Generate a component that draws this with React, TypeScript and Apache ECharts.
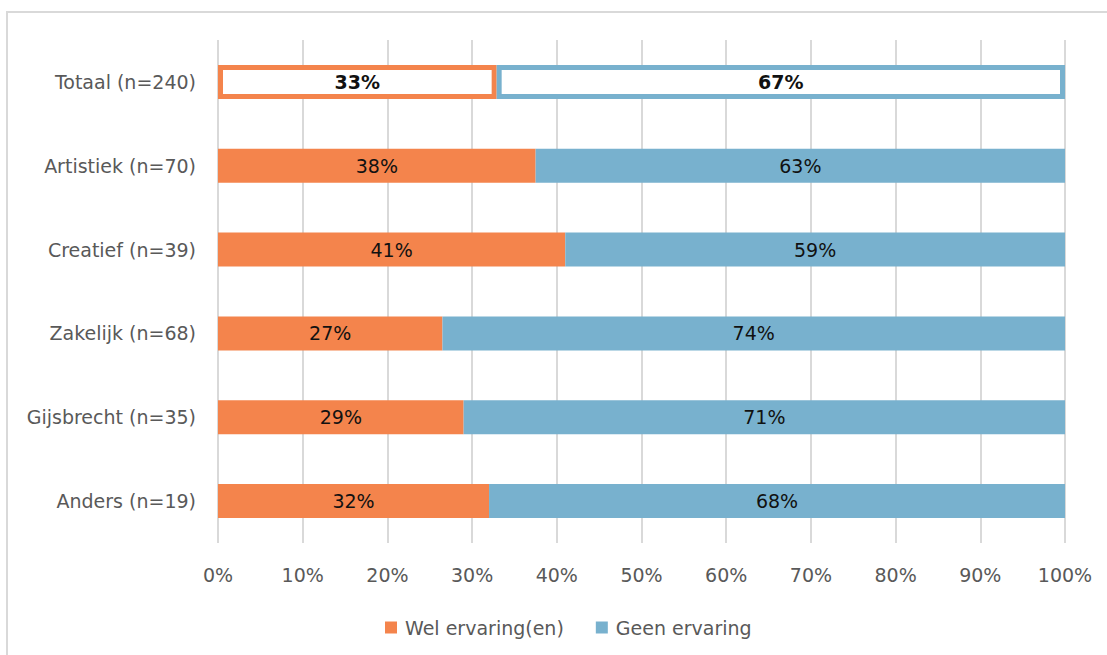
import React, { useEffect, useRef } from "react";
import * as echarts from "echarts";

const categories = [
  "Totaal (n=240)",
  "Artistiek (n=70)",
  "Creatief (n=39)",
  "Zakelijk (n=68)",
  "Gijsbrecht (n=35)",
  "Anders (n=19)",
];
const welValues = [32.9, 37.5, 41, 26.5, 29, 32];
const geenValues = [67.1, 62.5, 59, 73.5, 71, 68];
const welLabels = ["33%", "38%", "41%", "27%", "29%", "32%"];
const geenLabels = ["67%", "63%", "59%", "74%", "71%", "68%"];
const xTicks = [0, 10, 20, 30, 40, 50, 60, 70, 80, 90, 100];

const ORANGE = "#F4844C";
const BLUE = "#78B1CE";
const FONT = "DejaVu Sans";

export default function App() {
  const ref = useRef<HTMLDivElement>(null);
  useEffect(() => {
    document.body.style.margin = "0";
    if (!ref.current) return;
    const chart = echarts.init(ref.current, null, { renderer: "svg" });
    const mk = (vals: number[], color: string) =>
      vals.map((v, i) =>
        i === 0
          ? {
              value: v,
              itemStyle: { color: "#ffffff", borderColor: color, borderWidth: 5 },
              label: { fontWeight: "bold" },
            }
          : { value: v }
      );
    chart.setOption({
      animation: false,
      backgroundColor: "#ffffff",
      textStyle: { fontFamily: FONT },
      graphic: [
        {
          type: "rect",
          shape: { x: 7, y: 12, width: 1120, height: 700 },
          style: { fill: "none", stroke: "#d9d9d9", lineWidth: 2 },
          silent: true,
          z: -10,
        },
      ],
      grid: { left: 218, right: 42, top: 40, bottom: 112, containLabel: false },
      legend: {
        left: 380,
        top: 613,
        itemWidth: 12,
        itemHeight: 12,
        itemGap: 32,
        icon: "rect",
        textStyle: { fontFamily: FONT, fontSize: 19, color: "#595959", padding: [0, 0, 0, 3] },
        data: ["Wel ervaring(en)", "Geen ervaring"],
      },
      xAxis: {
        type: "value",
        min: 0,
        max: 100,
        interval: 10,
        axisLine: { show: false },
        axisTick: { show: false },
        splitLine: { show: true, lineStyle: { color: "#d9d9d9", width: 2 } },
        axisLabel: {
          fontFamily: FONT,
          fontSize: 19,
          color: "#595959",
          margin: 22,
          formatter: (v: number) => (xTicks.includes(v) ? v + "%" : ""),
        },
      },
      yAxis: {
        type: "category",
        inverse: true,
        data: categories,
        axisLine: { show: false },
        axisTick: { show: false },
        axisLabel: { fontFamily: FONT, fontSize: 19, color: "#595959", margin: 22 },
      },
      series: [
        {
          name: "Wel ervaring(en)",
          type: "bar",
          stack: "total",
          barWidth: 34,
          color: ORANGE,
          itemStyle: { color: ORANGE },
          label: {
            show: true,
            position: "inside",
            fontFamily: FONT,
            fontSize: 19,
            color: "#111111",
            formatter: (p: any) => welLabels[p.dataIndex],
          },
          data: mk(welValues, ORANGE),
        },
        {
          name: "Geen ervaring",
          type: "bar",
          stack: "total",
          barWidth: 34,
          color: BLUE,
          itemStyle: { color: BLUE },
          label: {
            show: true,
            position: "inside",
            fontFamily: FONT,
            fontSize: 19,
            color: "#111111",
            formatter: (p: any) => geenLabels[p.dataIndex],
          },
          data: mk(geenValues, BLUE),
        },
      ],
    });
    return () => chart.dispose();
  }, []);
  return <div ref={ref} style={{ width: 1107, height: 655 }} />;
}
